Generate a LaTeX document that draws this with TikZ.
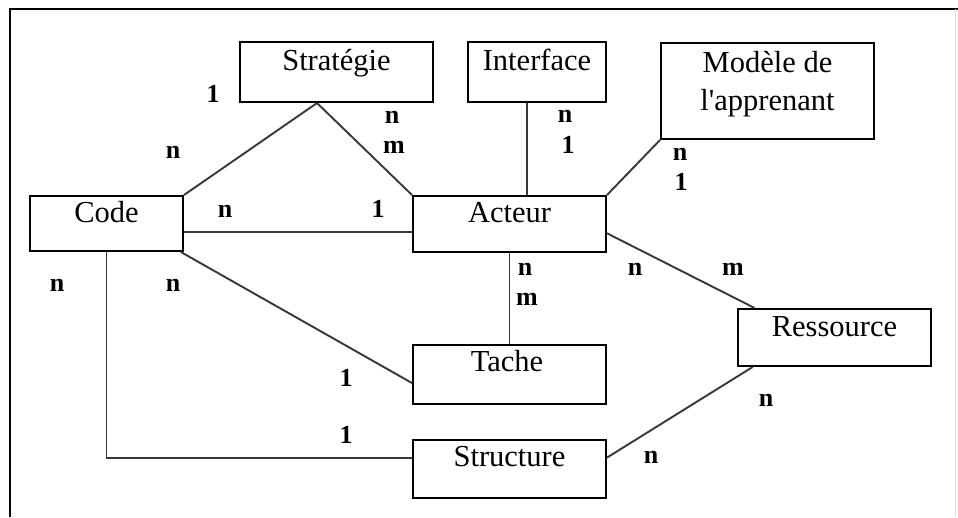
\documentclass[tikz,border=0pt]{standalone}
\usepackage{fontspec}
\setmainfont{Liberation Serif}[Ligatures=TeXOff]
\usetikzlibrary{calc}

\tikzset{
  entity/.style={draw=black, line width=2pt, inner sep=0pt, minimum width=193pt},
  etext/.style={font=\fontsize{30.5}{36}\selectfont, anchor=base, inner sep=0pt},
  card/.style={font=\bfseries\fontsize{26}{30}\selectfont, inner sep=0pt, anchor=center},
  link/.style={draw=black!78, line width=1.9pt},
  frame/.style={draw=black, line width=2pt}
}

\begin{document}
\begin{tikzpicture}[x=1pt, y=-1pt]
  \useasboundingbox (0,0) rectangle (958,517);
  \fill[white] (0,0) rectangle (958,517);

  % outer frame
  \coordinate (f1) at (10,517);
  \coordinate (f2) at (10,9);
  \coordinate (f3) at (958,9);
  \draw[frame] (f1) -- (f2) -- (f3);
  \coordinate (f4) at (955,9);
  \coordinate (f5) at (955,517);
  \draw[draw=black!12, line width=1pt] (f4) -- (f5);

  % entity boxes
  \node[entity, minimum height=60pt] (strat) at (336.5,72) {};
  \node[entity, minimum width=138pt, minimum height=60pt] (interf) at (537,72) {};
  \node[entity, minimum width=213pt, minimum height=96pt] (modele) at (767.5,91) {};
  \node[entity, minimum width=153pt, minimum height=55pt] (code) at (106.5,223.5) {};
  \node[entity, minimum height=56pt] (acteur) at (509.5,224) {};
  \node[entity, minimum height=59pt] (tache) at (509.5,374.5) {};
  \node[entity, minimum height=58pt] (struct) at (509.5,469) {};
  \node[entity, minimum height=57pt] (ress) at (834.5,337.5) {};

  % box titles
  \node[etext] (strat-t) at (336.5,70) {Stratégie};
  \node[etext] (interf-t) at (537,70) {Interface};
  \node[etext] (modele-t1) at (767.5,72) {Modèle de};
  \node[etext] (modele-t2) at (767.5,110) {l'apprenant};
  \node[etext] (code-t) at (106.5,222) {Code};
  \node[etext] (acteur-t) at (509.5,222) {Acteur};
  \node[etext] (tache-t) at (507,371) {Tache};
  \node[etext] (struct-t) at (509.5,466) {Structure};
  \node[etext] (ress-t) at (834.5,336) {Ressource};

  % attachment points on the box borders
  \coordinate (s-b) at ($(strat.south west)!0.4!(strat.south east)$);
  \coordinate (c-e) at ($(code.north east)!0.65!(code.south east)$);
  \coordinate (i-b) at ($(interf.south west)!0.43!(interf.south east)$);
  \coordinate (a-e) at ($(acteur.north east)!0.66!(acteur.south east)$);
  \coordinate (r-t) at ($(ress.north west)!0.09!(ress.north east)$);
  \coordinate (r-b) at ($(ress.south west)!0.08!(ress.south east)$);
  \coordinate (c-se) at ($(code.south west)!0.98!(code.south east)$);
  \coordinate (t-w) at ($(tache.north west)!0.64!(tache.south west)$);
  \coordinate (st-w) at ($(struct.north west)!0.31!(struct.south west)$);
  \coordinate (st-e) at ($(struct.north east)!0.31!(struct.south east)$);

  % relations
  \draw[link] (code.north east) -- (s-b);
  \draw[link] (s-b) -- (acteur.north west);
  \draw[link] (c-e) -- (c-e -| acteur.west);
  \draw[link] (i-b) -- (i-b |- acteur.north);
  \draw[link] (modele.south west) -- (acteur.north east);
  \draw[link] (a-e) -- (r-t);
  \draw[link] (acteur.south) -- (tache.north);
  \draw[link] (c-se) -- (t-w);
  \draw[link] (code.south) |- (st-w);
  \draw[link] (st-e) -- (r-b);

  % cardinalities
  \node[card] (k1) at (213,94) {1};
  \node[card] (k2) at (173,152) {n};
  \node[card] (k3) at (392,117) {n};
  \node[card] (k4) at (394,147) {m};
  \node[card] (k5) at (225,211) {n};
  \node[card] (k6) at (378,209) {1};
  \node[card] (k7) at (565,116) {n};
  \node[card] (k8) at (568,145) {1};
  \node[card] (k9) at (680,154) {n};
  \node[card] (k10) at (681,182) {1};
  \node[card] (k11) at (57,285) {n};
  \node[card] (k12) at (173,285) {n};
  \node[card] (k13) at (346,378) {1};
  \node[card] (k14) at (346,435) {1};
  \node[card] (k15) at (525,269) {n};
  \node[card] (k16) at (527,299) {m};
  \node[card] (k17) at (635,269) {n};
  \node[card] (k18) at (733,269) {m};
  \node[card] (k19) at (766,400) {n};
  \node[card] (k20) at (651,457) {n};
\end{tikzpicture}
\end{document}
